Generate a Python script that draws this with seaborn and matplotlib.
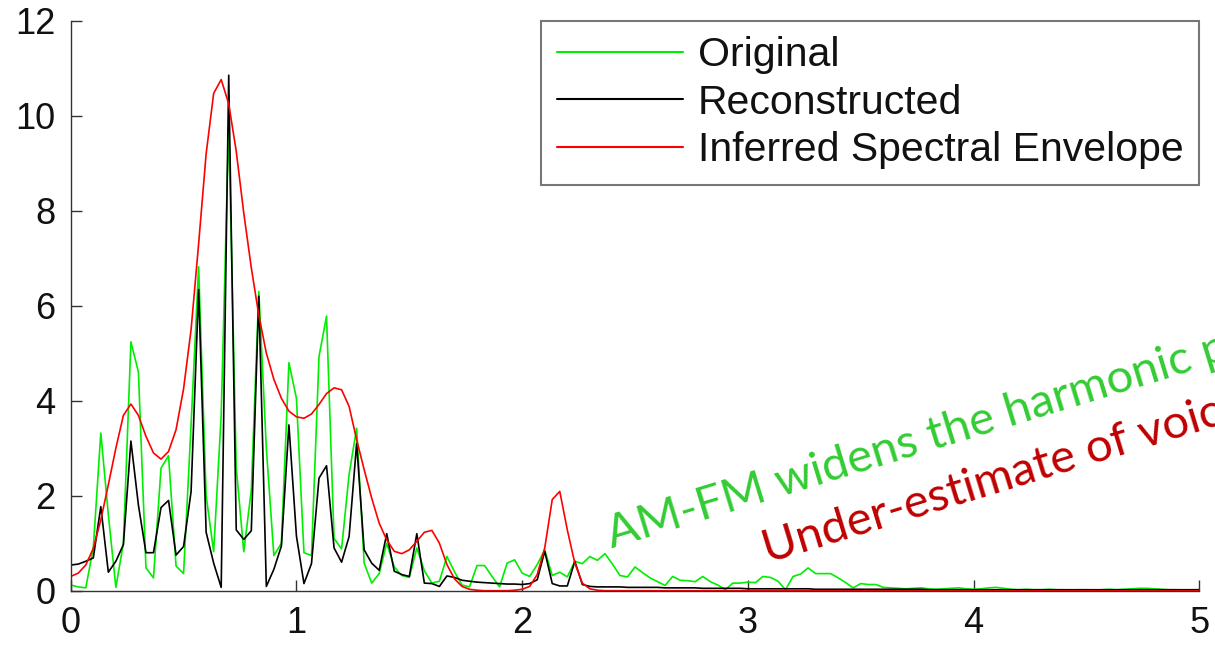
import numpy as np
import pandas as pd
import matplotlib
matplotlib.use("Agg")
import matplotlib.pyplot as plt
import seaborn as sns

# Spectrum sampled on a regular grid of 1/30 between 0 and 5
bin_width = 1.0 / 30.0
n_bins = 151

original = [
    0.12, 0.08, 0.06, 0.90, 3.32, 1.60, 0.07, 1.00, 5.24, 4.60,
    0.48, 0.27, 2.58, 2.84, 0.52, 0.36, 3.50, 6.82, 2.00, 0.82,
    3.70, 9.80, 2.60, 0.82, 2.12, 6.30, 3.00, 0.74, 1.00, 4.80,
    4.05, 0.80, 0.74, 4.93, 5.78, 1.10, 0.88, 2.45, 3.42, 0.58,
    0.16, 0.36, 1.00, 0.50, 0.32, 0.28, 0.90, 0.42, 0.16, 0.20,
    0.72, 0.40, 0.12, 0.08, 0.53, 0.53, 0.30, 0.08, 0.58, 0.65,
    0.37, 0.30, 0.55, 0.86, 0.32, 0.39, 0.29, 0.62, 0.57, 0.72,
    0.64, 0.78, 0.56, 0.32, 0.29, 0.50, 0.38, 0.27, 0.19, 0.11,
    0.30, 0.22, 0.21, 0.19, 0.30, 0.19, 0.12, 0.02, 0.16, 0.16,
    0.18, 0.17, 0.30, 0.28, 0.20, 0.02, 0.30, 0.35, 0.48, 0.36,
    0.36, 0.36, 0.27, 0.17, 0.06, 0.15, 0.13, 0.13, 0.07, 0.06,
    0.05, 0.04, 0.05, 0.06, 0.04, 0.03, 0.04, 0.05, 0.06, 0.04,
    0.03, 0.04, 0.06, 0.07, 0.05, 0.03, 0.02, 0.03, 0.02, 0.02,
    0.03, 0.02, 0.02, 0.01, 0.02, 0.02, 0.01, 0.02, 0.03, 0.02,
    0.03, 0.04, 0.05, 0.05, 0.04, 0.03, 0.02, 0.02, 0.01, 0.02,
    0.02,
]

reconstructed = [
    0.54, 0.56, 0.62, 0.69, 1.77, 0.39, 0.62, 0.97, 3.15, 1.80,
    0.80, 0.80, 1.75, 1.90, 0.75, 0.93, 2.09, 6.34, 1.23, 0.58,
    0.07, 10.85, 1.28, 1.08, 1.26, 6.20, 0.09, 0.45, 0.94, 3.49,
    1.15, 0.15, 0.57, 2.37, 2.63, 0.90, 0.60, 1.14, 3.10, 0.86,
    0.58, 0.43, 1.20, 0.41, 0.34, 0.30, 1.20, 0.16, 0.15, 0.09,
    0.31, 0.28, 0.22, 0.20, 0.18, 0.17, 0.16, 0.15, 0.14, 0.14,
    0.13, 0.15, 0.23, 0.83, 0.15, 0.10, 0.10, 0.62, 0.13, 0.09,
    0.08, 0.08, 0.08, 0.08, 0.07, 0.07, 0.07, 0.07, 0.07, 0.06,
    0.06, 0.06, 0.06, 0.06, 0.05, 0.05, 0.05, 0.05, 0.05, 0.05,
    0.04, 0.04, 0.04, 0.04, 0.04, 0.04, 0.04, 0.04, 0.04, 0.03,
    0.03, 0.03, 0.03, 0.03, 0.03, 0.03, 0.03, 0.03, 0.03, 0.03,
    0.03, 0.03, 0.03, 0.03, 0.02, 0.02, 0.02, 0.02, 0.02, 0.02,
    0.02, 0.02, 0.02, 0.02, 0.02, 0.02, 0.02, 0.02, 0.02, 0.02,
    0.02, 0.02, 0.02, 0.02, 0.02, 0.02, 0.02, 0.02, 0.02, 0.02,
    0.02, 0.02, 0.02, 0.02, 0.02, 0.02, 0.02, 0.02, 0.02, 0.02,
    0.02,
]

envelope = [
    0.30, 0.37, 0.54, 0.89, 1.49, 2.23, 3.00, 3.69, 3.93, 3.69,
    3.25, 2.90, 2.77, 2.93, 3.39, 4.25, 5.50, 7.30, 9.20, 10.47,
    10.76, 10.25, 9.25, 7.95, 6.80, 5.80, 5.00, 4.45, 4.05, 3.78,
    3.66, 3.63, 3.72, 3.92, 4.15, 4.27, 4.23, 3.88, 3.18, 2.55,
    1.95, 1.42, 1.07, 0.83, 0.78, 0.86, 1.04, 1.23, 1.27, 1.00,
    0.55, 0.25, 0.09, 0.03, 0.01, 0.00, 0.00, 0.00, 0.00, 0.01,
    0.03, 0.09, 0.34, 0.90, 1.92, 2.09, 1.28, 0.58, 0.16, 0.04,
    0.01, 0.00, 0.00, 0.00, 0.00, 0.00, 0.00, 0.00, 0.00, 0.00,
    0.00, 0.00, 0.00, 0.00, 0.00, 0.00, 0.00, 0.00, 0.00, 0.00,
    0.00, 0.00, 0.00, 0.00, 0.00, 0.00, 0.00, 0.00, 0.00, 0.00,
    0.00, 0.00, 0.00, 0.00, 0.00, 0.00, 0.00, 0.00, 0.00, 0.00,
    0.00, 0.00, 0.00, 0.00, 0.00, 0.00, 0.00, 0.00, 0.00, 0.00,
    0.00, 0.00, 0.00, 0.00, 0.00, 0.00, 0.00, 0.00, 0.00, 0.00,
    0.00, 0.00, 0.00, 0.00, 0.00, 0.00, 0.00, 0.00, 0.00, 0.00,
    0.00, 0.00, 0.00, 0.00, 0.00, 0.00, 0.00, 0.00, 0.00, 0.00,
    0.00,
]

series_names = ["Original", "Reconstructed", "Inferred Spectral Envelope"]
series_colors = ["#00ee00", "#000000", "#ff0000"]
x_ticks = [0, 1, 2, 3, 4, 5]
y_ticks = [0, 2, 4, 6, 8, 10, 12]

freq = np.arange(n_bins) * bin_width
df = pd.concat(
    [
        pd.DataFrame({"freq": freq, "magnitude": vals, "series": name})
        for name, vals in zip(series_names, [original, reconstructed, envelope])
    ],
    ignore_index=True,
)

sns.set_style("ticks")
plt.rcParams["font.family"] = ["Liberation Sans", "DejaVu Sans"]

fig = plt.figure(figsize=(12.15, 6.46), dpi=100)
ax = fig.add_axes([0.0582, 0.0856, 0.9289, 0.8824])

sns.lineplot(
    data=df, x="freq", y="magnitude", hue="series",
    hue_order=series_names, palette=series_colors,
    estimator=None, sort=False, linewidth=1.2, ax=ax,
)

ax.set_xlim(0, 5)
ax.set_ylim(0, 12)
ax.set_xticks(x_ticks)
ax.set_yticks(y_ticks)
ax.set_xlabel("")
ax.set_ylabel("")
for side in ["top", "right"]:
    ax.spines[side].set_visible(False)
for side in ["left", "bottom"]:
    ax.spines[side].set_color("#333333")
    ax.spines[side].set_linewidth(1.0)
ax.tick_params(direction="in", length=8, width=1.0, color="#333333",
               labelsize=26, pad=11, labelcolor="#111111")

handles, labels = ax.get_legend_handles_labels()
for h in handles:
    h.set_linewidth(1.5)
leg = ax.legend(
    handles, labels, loc="upper right", fontsize=29.5, frameon=True,
    fancybox=False, edgecolor="#555555", handlelength=3.07,
    handletextpad=0.37, borderaxespad=0.0, labelspacing=0.23,
    borderpad=0.38,
)
leg.get_frame().set_linewidth(1.5)
for t in leg.get_texts():
    t.set_color("#111111")

# Slanted call-outs running off the right edge
fig.text(612 / 1215, 1 - 548 / 646, "AM-FM widens the harmonic peaks",
         color="#33cc33", fontsize=34, family=["Lato", "DejaVu Sans"],
         rotation=17, rotation_mode="anchor", ha="left", va="baseline")
fig.text(768 / 1215, 1 - 563 / 646, "Under-estimate of voicing",
         color="#c00000", fontsize=34, family=["Lato", "DejaVu Sans"],
         rotation=17, rotation_mode="anchor", ha="left", va="baseline")

fig.savefig("out.png", dpi=100)
